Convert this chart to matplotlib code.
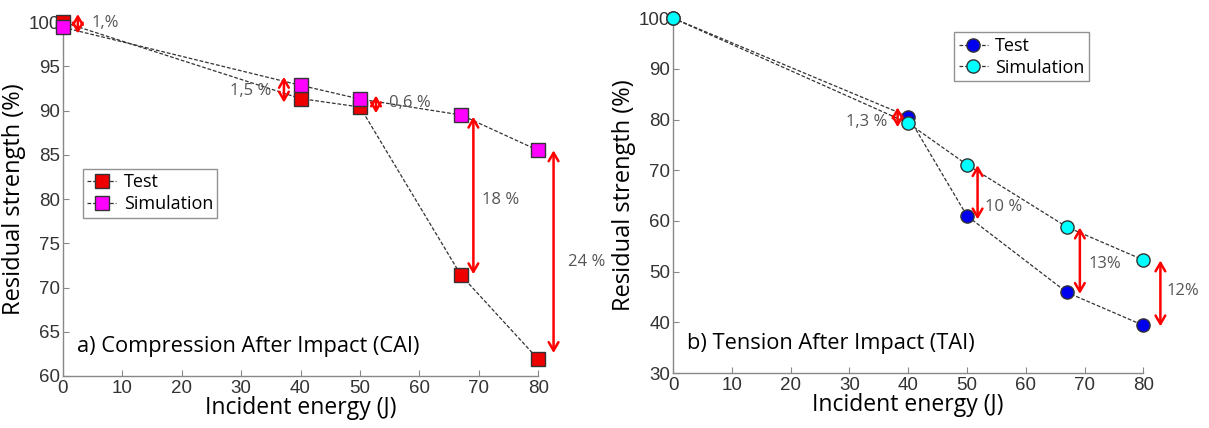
import matplotlib.pyplot as plt

# Daten
energie = [0, 40, 50, 67, 80]

cai_test = [100, 91.35, 90.4, 71.4, 61.9]
cai_sim = [99.4, 92.85, 91.3, 89.5, 85.5]

tai_test = [100, 80.6, 61.0, 45.9, 39.4]
tai_sim = [100, 79.3, 71.1, 58.8, 52.3]

# Pfeile: (x, y_start, y_end, text, text_x, text_y)
cai_pfeile = [(2.5, 98.7, 100.9, "1,%", 4.8, 99.9),
              (37.2, 90.9, 93.8, "1,5 %", 35.1, 92.2),
              (52.7, 89.7, 91.7, "0,6 %", 54.9, 90.9),
              (69.1, 71.5, 89.3, "18 %", 70.6, 79.9),
              (82.6, 62.6, 85.5, "24 %", 85.0, 72.9)]
tai_pfeile = [(38.2, 78.5, 82.4, "1,3 %", 36.4, 79.6),
              (51.8, 60.3, 71.0, "10 %", 53.0, 62.8),
              (69.2, 45.6, 58.7, "13%", 70.7, 51.5),
              (82.9, 39.2, 52.2, "12%", 84.0, 46.1)]

fontfam = ["Open Sans", "DejaVu Sans"]
tickfam = ["Liberation Sans", "DejaVu Sans"]


def panel(ax, test, sim, farbe_t, farbe_s, marker, pfeile, ylim, yticks,
          titel, legend_pos):
    ax.plot(energie, test, ls=(0, (3, 1.5)), lw=0.9, color="#333333",
            marker=marker, ms=9.5, mfc=farbe_t, mec="#333333", mew=1,
            label="Test", clip_on=False, zorder=3)
    ax.plot(energie, sim, ls=(0, (3, 1.5)), lw=0.9, color="#333333",
            marker=marker, ms=9.5, mfc=farbe_s, mec="#333333", mew=1,
            label="Simulation", clip_on=False, zorder=3)

    for x, y0, y1, txt, tx, ty in pfeile:
        ax.annotate("", xy=(x, y1), xytext=(x, y0),
                    arrowprops=dict(arrowstyle="<->,head_length=0.6,head_width=0.35",
                                    color="red", lw=1.8, mutation_scale=10,
                                    shrinkA=0, shrinkB=0),
                    annotation_clip=False)
        ha = "right" if tx < x else "left"
        ax.text(tx, ty, txt, ha=ha, va="center", fontsize=12,
                color="#555555", family=fontfam, clip_on=False)

    ax.set_xlim(0, 80)
    ax.set_ylim(*ylim)
    ax.set_xticks(range(0, 81, 10))
    ax.set_yticks(yticks)
    for s in ["top", "right"]:
        ax.spines[s].set_visible(False)
    for s in ["left", "bottom"]:
        ax.spines[s].set_color("#888888")
        ax.spines[s].set_linewidth(1)
    ax.tick_params(direction="in", length=4, color="#888888",
                   labelsize=13.5, labelcolor="#333333")
    ax.tick_params(axis="x", pad=3)
    ax.tick_params(axis="y", pad=2)
    for lab in ax.get_xticklabels() + ax.get_yticklabels():
        lab.set_family(tickfam)

    ax.set_xlabel("Incident energy (J)", fontsize=16.5, family=fontfam, labelpad=-1)
    ax.set_ylabel("Residual strength (%)", fontsize=17, family=fontfam, labelpad=2)
    ax.text(0.03, 0.082, titel, transform=ax.transAxes, fontsize=15.7,
            family=fontfam, ha="left", va="center")

    leg = ax.legend(loc="upper left", bbox_to_anchor=legend_pos,
                    prop={"family": fontfam, "size": 13}, frameon=True,
                    fancybox=False, handlelength=1.6, borderpad=0.25,
                    labelspacing=0.2, handletextpad=0.4, borderaxespad=0)
    leg.get_frame().set_edgecolor("#777777")
    leg.get_frame().set_linewidth(1)


fig = plt.figure(figsize=(12.09, 4.28), dpi=100)
ax1 = fig.add_axes([0.0521, 0.1215, 0.393, 0.827])
ax2 = fig.add_axes([0.5567, 0.1285, 0.389, 0.829])

panel(ax1, cai_test, cai_sim, "#ee0000", "#ff00ff", "s", cai_pfeile,
      (60, 100), range(60, 101, 5), "a) Compression After Impact (CAI)",
      (0.042, 0.585))
panel(ax2, tai_test, tai_sim, "#0000ee", "#00ffff", "o", tai_pfeile,
      (30, 100), range(30, 101, 10), "b) Tension After Impact (TAI)",
      (0.598, 0.96))

fig.savefig("out.png", dpi=100)
